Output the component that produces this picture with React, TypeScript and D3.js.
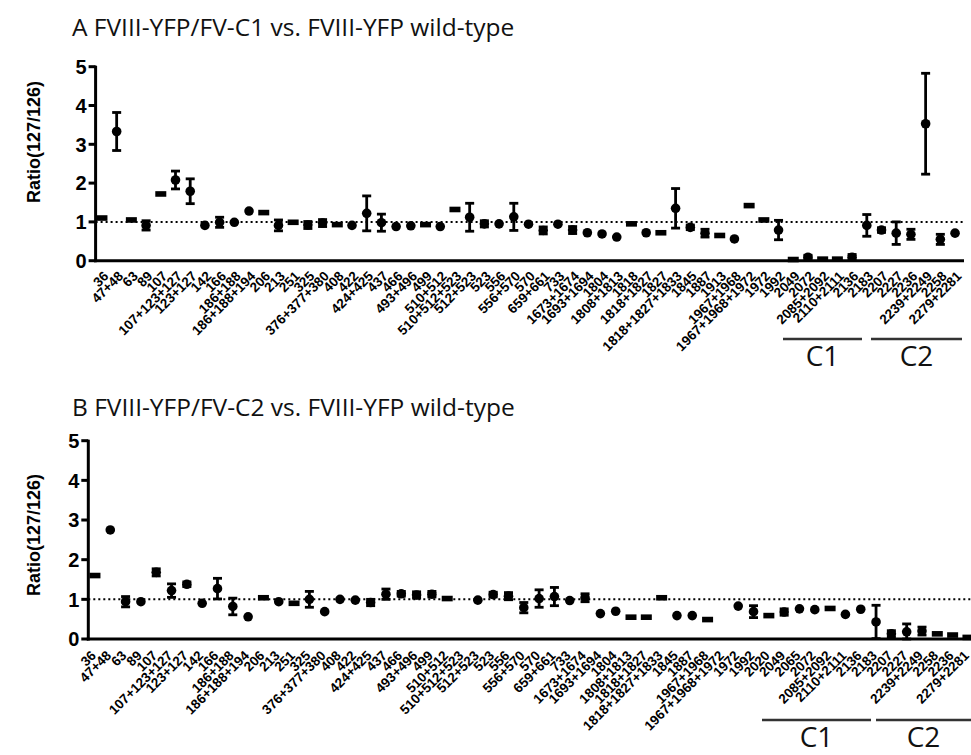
import * as d3 from 'd3';
import React from 'react';

// panel A: FVIII-YFP/FV-C1 vs wild-type
const peptidesA = ['36', '47+48', '63', '89', '107', '107+123+127', '123+127', '142', '166', '186+188', '186+188+194', '206', '213', '251', '325', '376+377+380', '408', '422', '424+425', '437', '466', '493+496', '499', '510+512', '510+512+523', '512+523', '523', '556', '556+570', '570', '659+661', '733', '1673+1674', '1693+1694', '1804', '1808+1813', '1818', '1818+1827', '1827', '1818+1827+1833', '1845', '1887', '1913', '1967+1968', '1967+1968+1972', '1972', '1992', '2049', '2072', '2085+2092', '2110+2111', '2136', '2183', '2207', '2227', '2236', '2239+2249', '2258', '2279+2281'];
const ratioA = [1.10, 3.33, 1.05, 0.91, 1.72, 2.08, 1.79, 0.91, 0.99, 0.99, 1.28, 1.24, 0.91, 0.99, 0.92, 0.97, 0.93, 0.91, 1.22, 0.98, 0.88, 0.90, 0.93, 0.88, 1.32, 1.12, 0.95, 0.95, 1.13, 0.94, 0.78, 0.94, 0.79, 0.72, 0.69, 0.61, 0.95, 0.72, 0.72, 1.35, 0.86, 0.71, 0.65, 0.56, 1.42, 1.05, 0.79, 0.03, 0.09, 0.04, 0.04, 0.09, 0.91, 0.79, 0.71, 0.68, 3.53, 0.55, 0.71];
const sdA = [0.03, 0.49, 0.02, 0.12, 0.02, 0.23, 0.32, 0.04, 0.13, 0.03, 0.03, 0.02, 0.14, 0.02, 0.09, 0.09, 0.02, 0.03, 0.45, 0.22, 0.03, 0.04, 0.02, 0.03, 0.02, 0.36, 0.08, 0.03, 0.35, 0.04, 0.09, 0.04, 0.09, 0.04, 0.04, 0.04, 0.02, 0.04, 0.02, 0.51, 0.06, 0.10, 0.02, 0.04, 0.02, 0.02, 0.25, 0.02, 0.05, 0.02, 0.02, 0.07, 0.28, 0.06, 0.29, 0.13, 1.30, 0.13, 0.04];
// '-' = flat bar marker, 'o' = round marker
const markA = ('-o-o-oooooo' + '-' + 'o-oo-' + 'ooooo-o-' + 'ooooooooooo' + '-o-' + 'ooo-' + 'o--' + 'o-' + 'o--' + 'oooooooo').split('');

// panel B: FVIII-YFP/FV-C2 vs wild-type
const peptidesB = ['36', '47+48', '63', '89', '107', '107+123+127', '123+127', '142', '166', '186+188', '186+188+194', '206', '213', '251', '325', '376+377+380', '408', '422', '424+425', '437', '466', '493+496', '499', '510+512', '510+512+523', '512+523', '523', '556', '556+570', '570', '659+661', '733', '1673+1674', '1693+1694', '1804', '1808+1813', '1818+1827', '1818+1827+1833', '1845', '1887', '1967+1968', '1967+1968+1972', '1972', '1992', '2020', '2049', '2065', '2072', '2085+2092', '2110+2111', '2136', '2183', '2207', '2227', '2239+2249', '2258', '2236', '2279+2281'];
const ratioB = [1.60, 2.75, 0.94, 0.94, 1.68, 1.22, 1.38, 0.90, 1.27, 0.82, 0.56, 1.04, 0.94, 0.90, 1.00, 0.69, 1.00, 0.98, 0.92, 1.13, 1.14, 1.11, 1.13, 1.02, null, 0.98, 1.12, 1.08, 0.79, 1.02, 1.07, 0.97, 1.04, 0.64, 0.70, 0.55, 0.55, 1.04, 0.59, 0.59, 0.49, null, 0.83, 0.69, 0.59, 0.68, 0.76, 0.74, 0.77, 0.62, 0.75, 0.43, 0.13, 0.18, 0.20, 0.13, 0.10, 0.04];
const sdB = [0.02, 0.04, 0.13, 0.04, 0.09, 0.17, 0.06, 0.04, 0.26, 0.21, 0.02, 0.04, 0.02, 0.03, 0.20, 0.04, 0.04, 0.02, 0.08, 0.13, 0.06, 0.08, 0.07, 0.02, 0, 0.03, 0.06, 0.09, 0.13, 0.22, 0.23, 0.03, 0.10, 0.04, 0.04, 0.02, 0.02, 0.02, 0.04, 0.04, 0.02, 0, 0.03, 0.15, 0.02, 0.08, 0.04, 0.04, 0.02, 0.03, 0.04, 0.42, 0.08, 0.20, 0.10, 0.02, 0.02, 0.02];
const markB = '-oooooooooo-o-ooooooooo-ooooooooooo---oo-ooo-ooo-oooooo---'.split('');

const yTicks = [0, 1, 2, 3, 4, 5];

const tickFont = 'Liberation Sans, Arial, sans-serif';
const titleFont = 'Open Sans, Noto Sans, sans-serif';

function Panel(props) {
  const { cats, vals, sds, marks, x0, x1, y0, y1, axisEnd, title, titleY, labelY, domains, lblDx, lblDy } = props;
  const x = d3.scalePoint().domain(cats).range([x0, x1]).padding(0.5);
  const y = d3.scaleLinear().domain([0, 5]).range([y0, y1]);
  const axisX = x0 + 1;

  return (
    <g>
      <text x={72} y={titleY} fontFamily={titleFont} fontSize={24.5} fill="#111">{title}</text>
      <text transform={`translate(40,${labelY}) rotate(-90)`} textAnchor="middle" fontFamily={tickFont}
        fontWeight="bold" fontSize={18}>Ratio(127/126)</text>
      {/* reference line at ratio 1 */}
      <line x1={axisX} x2={axisEnd} y1={y(1)} y2={y(1)} stroke="#000" strokeWidth={2} strokeDasharray="2 3" />
      {/* y axis */}
      <line x1={axisX} x2={axisX} y1={y(5) - 1} y2={y(0) + 1.5} stroke="#000" strokeWidth={3} />
      {yTicks.map(t => (
        <g key={t}>
          <line x1={axisX - 7} x2={axisX} y1={y(t)} y2={y(t)} stroke="#000" strokeWidth={3} />
          <text x={axisX - 9} y={y(t)} dy="0.36em" textAnchor="end" fontFamily={tickFont}
            fontWeight="bold" fontSize={20}>{t}</text>
        </g>
      ))}
      {/* x axis */}
      <line x1={axisX - 1.5} x2={axisEnd} y1={y(0)} y2={y(0)} stroke="#000" strokeWidth={3} />
      {cats.map(c => (
        <text key={c} transform={`translate(${x(c) + lblDx},${y(0) + lblDy}) rotate(-45)`} textAnchor="end" dy="0.35em"
          fontFamily={tickFont} fontWeight="bold" fontSize={13.5}>{c}</text>
      ))}
      {/* points with SD */}
      {cats.map((c, i) => {
        const v = vals[i];
        if (v == null) return null;
        const cx = x(c);
        const e = sds[i];
        const lo = y(Math.max(0, v - e));
        const hi = y(v + e);
        return (
          <g key={'p' + c}>
            {e > 0.04 && (
              <g stroke="#000" strokeWidth={2.8}>
                <line x1={cx} x2={cx} y1={lo} y2={hi} />
                <line x1={cx - 4.5} x2={cx + 4.5} y1={lo} y2={lo} />
                <line x1={cx - 4.5} x2={cx + 4.5} y1={hi} y2={hi} />
              </g>
            )}
            {marks[i] === '-'
              ? <rect x={cx - 5.5} y={y(v) - 2.8} width={11} height={5.6} fill="#000" />
              : <circle cx={cx} cy={y(v)} r={4.8} fill="#000" />}
          </g>
        );
      })}
      {/* domain brackets */}
      {domains.map(d => (
        <g key={d.name}>
          <line x1={d.from} x2={d.to} y1={d.lineY} y2={d.lineY} stroke="#333" strokeWidth={2.5} />
          <text x={(d.from + d.to) / 2} y={d.lineY + 27} textAnchor="middle" fontFamily={titleFont}
            fontSize={28} fill="#111">{d.name}</text>
        </g>
      ))}
    </g>
  );
}

export default function App() {
  return (
    <svg width={971} height={755} style={{ position: 'absolute', left: 0, top: 0, background: '#fff' }}>
      <Panel cats={peptidesA} vals={ratioA} sds={sdA} marks={markA}
        x0={94.6} x1={962.4} y0={260.7} y1={66.7} axisEnd={964} lblDx={4} lblDy={13}
        title="A FVIII-YFP/FV-C1 vs. FVIII-YFP wild-type" titleY={36} labelY={142}
        domains={[{ name: 'C1', from: 783, to: 862, lineY: 339 }, { name: 'C2', from: 871, to: 962, lineY: 339 }]} />
      <Panel cats={peptidesB} vals={ratioB} sds={sdB} marks={markB}
        x0={87.3} x1={975.6} y0={639} y1={440.7} axisEnd={971} lblDx={-1.5} lblDy={14}
        title="B FVIII-YFP/FV-C2 vs. FVIII-YFP wild-type" titleY={416} labelY={535}
        domains={[{ name: 'C1', from: 762, to: 871, lineY: 720 }, { name: 'C2', from: 876, to: 971, lineY: 720 }]} />
    </svg>
  );
}
